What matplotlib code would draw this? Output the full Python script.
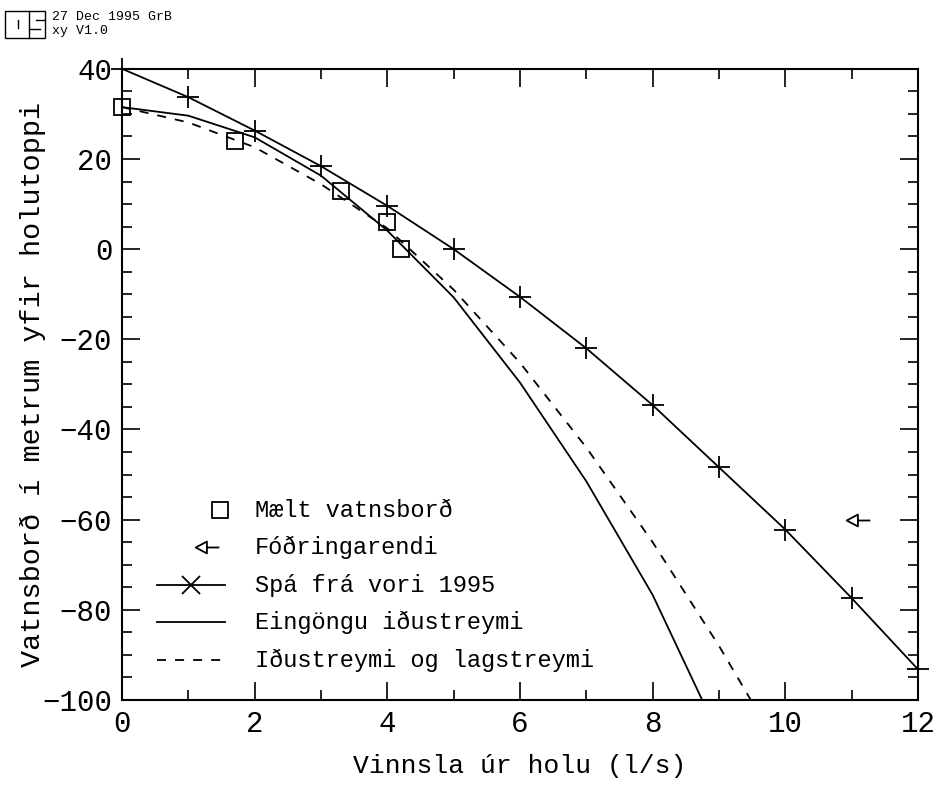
import numpy as np
import matplotlib
matplotlib.use('Agg')
import matplotlib.pyplot as plt
from matplotlib.path import Path
from matplotlib.lines import Line2D
from matplotlib.patches import Rectangle

plt.rcParams['font.family'] = ['Liberation Mono', 'DejaVu Sans Mono']

# measured water level
maelt_x = [0.0, 1.7, 3.3, 4.0, 4.2]
maelt_y = [31.5, 24.0, 13.0, 6.0, 0.0]

# casing end
fodring_x = [11.1]
fodring_y = [-60.0]

# prediction from spring 1995
spa_x = [0, 1, 2, 3, 4, 5, 6, 7, 8, 9, 10, 11, 12]
spa_y = [40.0, 33.7, 26.3, 18.4, 9.6, 0.0, -10.6, -22.0, -34.6, -48.4, -62.2, -77.4, -93.2]

# turbulent flow only
idu_x = [0, 1, 2, 3, 4, 5, 6, 7, 8, 9]
idu_y = [31.5, 29.6, 24.8, 16.3, 4.1, -10.7, -29.6, -51.5, -76.7, -107.9]

# turbulent and laminar flow
lag_x = [0, 1, 2, 3, 4, 5, 6, 7, 8, 9, 10]
lag_y = [31.5, 28.1, 22.6, 14.4, 4.6, -9.0, -25.2, -44.0, -65.0, -88.0, -113.0]

legend_labels = ['Mælt vatnsborð', 'Fóðringarendi', 'Spá frá vori 1995',
                 'Eingöngu iðustreymi', 'Iðustreymi og lagstreymi']

# left pointing triangle with a tail
tri_verts = [(-1, 0), (-0.05, 0.5), (-0.05, -0.5), (-1, 0), (-0.05, 0), (1, 0)]
tri_codes = [Path.MOVETO, Path.LINETO, Path.LINETO, Path.CLOSEPOLY, Path.MOVETO, Path.LINETO]
tri_marker = Path(tri_verts, tri_codes)

fig = plt.figure(figsize=(9.35, 8), dpi=100)
ax = fig.add_axes([0.1305, 0.125, 0.8513, 0.789])

lw = 1.3
ax.plot(idu_x, idu_y, color='black', lw=lw, ls='-')
ax.plot(lag_x, lag_y, color='black', lw=lw, ls=(0, (5, 5)))
ax.plot(spa_x, spa_y, color='black', lw=lw, marker='+', ms=16, mew=1.3, clip_on=False)
ax.plot(maelt_x, maelt_y, ls='none', marker='s', ms=11, mfc='none', mec='black', mew=1.3, clip_on=False)
ax.plot(fodring_x, fodring_y, ls='none', marker=tri_marker, ms=17, mfc='none', mec='black', mew=1.3)

ax.set_xlim(0, 12)
ax.set_ylim(-100, 40)
ax.set_xticks(np.arange(0, 13, 2))
ax.set_xticks(np.arange(0, 13, 1), minor=True)
ax.set_yticks(np.arange(-100, 41, 20))
ax.set_yticks(np.arange(-100, 41, 5), minor=True)
ax.tick_params(which='both', direction='in', top=True, right=True, width=1.2,
               labelsize=21, pad=7)
ax.tick_params(which='major', length=13)
ax.tick_params(which='minor', length=7)
ax.set_yticklabels([str(v).replace('-', '\u2212') for v in range(-100, 41, 20)])
for s in ax.spines.values():
    s.set_linewidth(1.5)

ax.set_xlabel('Vinnsla úr holu (l/s)', fontsize=19, labelpad=12)
ax.set_ylabel('Vatnsborð í metrum yfir holutoppi', fontsize=20.5)
ax.yaxis.set_label_coords(-0.096, 0.5)

# legend drawn by hand
rows = [0.301, 0.2425, 0.182, 0.1236, 0.0634]
text_x = 0.167
ax.add_line(Line2D([0.123], [rows[0]], transform=ax.transAxes, ls='none', marker='s',
                   ms=11, mfc='none', mec='black', mew=1.3))
ax.add_line(Line2D([0.107], [rows[1]], transform=ax.transAxes, ls='none', marker=tri_marker,
                   ms=17, mfc='none', mec='black', mew=1.3))
ax.add_line(Line2D([0.044, 0.087, 0.129], [rows[2]] * 3, transform=ax.transAxes, color='black',
                   lw=lw, marker='x', ms=13, mew=1.3, markevery=[1]))
ax.add_line(Line2D([0.044, 0.129], [rows[3]] * 2, transform=ax.transAxes, color='black', lw=lw))
ax.add_line(Line2D([0.044, 0.129], [rows[4]] * 2, transform=ax.transAxes, color='black', lw=lw,
                   ls=(0, (5, 5))))
for r, lab in zip(rows, legend_labels):
    ax.text(text_x, r, lab, transform=ax.transAxes, fontsize=17, va='center', ha='left')

# stamp in the top left corner
fig.patches.append(Rectangle((5 / 935, 1 - 38 / 800), 40 / 935, 27 / 800, transform=fig.transFigure,
                             fill=False, lw=1.0, ec='black'))
fig.add_artist(Line2D([18 / 935] * 2, [1 - 20 / 800, 1 - 28 / 800], transform=fig.transFigure,
                      color='black', lw=1.0))
fig.add_artist(Line2D([29 / 935] * 2, [1 - 11 / 800, 1 - 38 / 800], transform=fig.transFigure,
                      color='black', lw=1.0))
fig.add_artist(Line2D([36 / 935, 45 / 935], [1 - 20 / 800] * 2, transform=fig.transFigure,
                      color='black', lw=1.0))
fig.add_artist(Line2D([29 / 935, 40 / 935], [1 - 29 / 800] * 2, transform=fig.transFigure,
                      color='black', lw=1.0))
fig.text(52 / 935, 1 - 17 / 800, '27 Dec 1995 GrB', fontsize=9.5, va='center', ha='left')
fig.text(52 / 935, 1 - 31 / 800, 'xy V1.0', fontsize=9.5, va='center', ha='left')

fig.savefig('out.png', dpi=100)
